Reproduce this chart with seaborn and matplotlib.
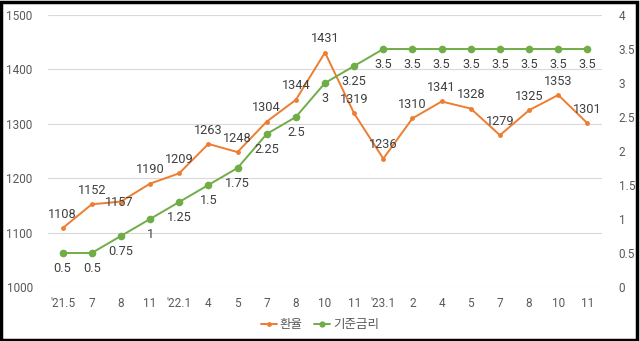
import matplotlib
matplotlib.use("Agg")
import matplotlib.pyplot as plt
import seaborn as sns
import pandas as pd
from matplotlib.patches import Rectangle
from matplotlib.lines import Line2D

# Periods (year.month) and the two series
periods = ["'21.5", "7", "8", "11", "'22.1", "4", "5", "7", "8", "10", "11",
           "'23.1", "2", "4", "5", "7", "8", "10", "11"]
exchange_rate = [1108, 1152, 1157, 1190, 1209, 1263, 1248, 1304, 1344, 1431, 1319,
                 1236, 1310, 1341, 1328, 1279, 1325, 1353, 1301]
base_rate = [0.5, 0.5, 0.75, 1, 1.25, 1.5, 1.75, 2.25, 2.5, 3, 3.25,
             3.5, 3.5, 3.5, 3.5, 3.5, 3.5, 3.5, 3.5]

left_ticks = [1000, 1100, 1200, 1300, 1400, 1500]
right_ticks = [0, 0.5, 1, 1.5, 2, 2.5, 3, 3.5, 4]

ORANGE = "#ED7D31"
GREEN = "#70AD47"
TICK_C = "#595959"
LABEL_C = "#404040"

sns.set_theme(style="white")
plt.rcParams["font.family"] = ["Roboto", "Noto Sans CJK KR", "DejaVu Sans"]

df = pd.DataFrame({"pos": range(len(periods)), "period": periods,
                   "fx": exchange_rate, "rate": base_rate})

fig = plt.figure(figsize=(6.4, 3.41), dpi=100)
ax = fig.add_axes([0.075, 0.1584, 0.8656, 0.7976])
ax2 = ax.twinx()

sns.lineplot(data=df, x="pos", y="fx", ax=ax, color=ORANGE, linewidth=1.4,
             marker="o", markersize=3.5, markeredgewidth=0, legend=False)
sns.lineplot(data=df, x="pos", y="rate", ax=ax2, color=GREEN, linewidth=1.4,
             marker="o", markersize=5.5, markeredgewidth=0, legend=False)

ax.set_xlim(-0.5, len(periods) - 0.5)
ax.set_ylim(1000, 1500)
ax2.set_ylim(0, 4)
ax.set_yticks(left_ticks)
ax2.set_yticks(right_ticks)
ax2.set_yticklabels([f"{t:g}" for t in right_ticks])
ax.set_xticks(df["pos"])
ax.set_xticklabels(periods)

for a in (ax, ax2):
    a.set_xlabel("")
    a.set_ylabel("")
    for s in a.spines.values():
        s.set_visible(False)
    a.tick_params(length=0, labelsize=8.5, colors=TICK_C)
ax.tick_params(axis="y", pad=11)
ax2.tick_params(axis="y", pad=12)
ax.tick_params(axis="x", pad=7)

ax.yaxis.grid(True, color="#D9D9D9", linewidth=0.8)
ax.set_axisbelow(True)

# value labels: exchange rate above, base rate below
fx_offsets = {2: (-1, -1)}
for i, v in enumerate(exchange_rate):
    dx, dy = fx_offsets.get(i, (0, 10))
    ax.annotate(f"{v}", (i, v), xytext=(dx, dy), textcoords="offset points",
                ha="center", va="center", fontsize=9.2, color=LABEL_C)
for i, v in enumerate(base_rate):
    ax2.annotate(f"{v:g}", (i, v), xytext=(0, -11), textcoords="offset points",
                 ha="center", va="center", fontsize=9.2, color=LABEL_C)

handles = [Line2D([], [], color=ORANGE, lw=1.4, marker="o", markersize=3.5, markeredgewidth=0),
           Line2D([], [], color=GREEN, lw=1.4, marker="o", markersize=4.5, markeredgewidth=0)]
fig.legend(handles, ["환율", "기준금리"], loc="center", bbox_to_anchor=(0.5, 0.047),
           ncol=2, frameon=False, fontsize=9, handlelength=1.3, handletextpad=0.2,
           columnspacing=0.9, labelcolor=TICK_C)

fig.patches.append(Rectangle((0.002, 0.004), 0.993, 0.99, transform=fig.transFigure,
                             fill=False, edgecolor="black", linewidth=2.5))

fig.savefig("out.png", dpi=100)
